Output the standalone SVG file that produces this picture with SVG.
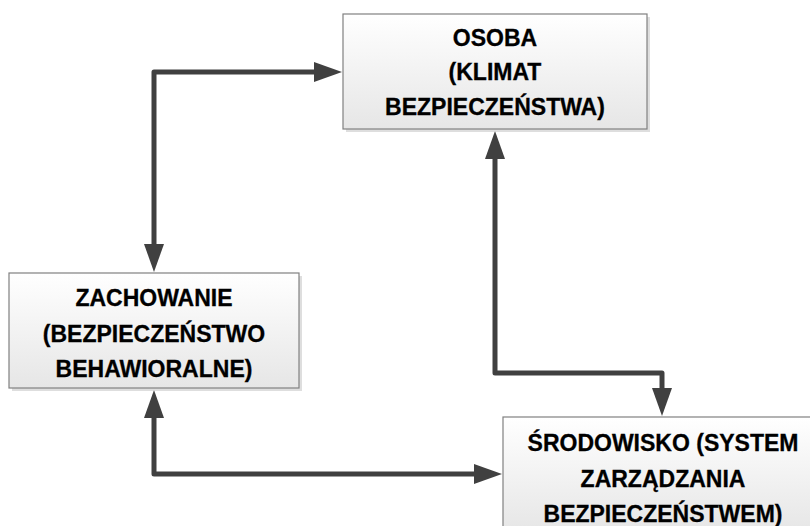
<svg xmlns="http://www.w3.org/2000/svg" width="810" height="526" viewBox="0 0 810 526">
  <defs>
    <linearGradient id="boxFill" x1="0" y1="0" x2="0" y2="1">
      <stop offset="0" stop-color="#ffffff"/>
      <stop offset="1" stop-color="#e6e6e6"/>
    </linearGradient>
    <!-- arrowhead: base sits on the path end, tip points 28px further -->
    <marker id="arrow" markerUnits="userSpaceOnUse" markerWidth="30" markerHeight="22" viewBox="0 0 30 22" refX="1" refY="11" orient="auto">
      <path d="M0,1 L28,11 L0,21 Z" fill="#404040"/>
    </marker>
    <marker id="arrowStart" markerUnits="userSpaceOnUse" markerWidth="30" markerHeight="22" viewBox="0 0 30 22" refX="1" refY="11" orient="auto-start-reverse">
      <path d="M0,1 L28,11 L0,21 Z" fill="#404040"/>
    </marker>
  </defs>
  <style>
    .shadow { fill: #c8c8c8; opacity: 0.6; }
    .box { fill: url(#boxFill); stroke: #808080; stroke-width: 1.2; }
    .label { font-family: "Liberation Sans", Arial, sans-serif; font-weight: bold; font-size: 23px; fill: #000000; text-anchor: middle; stroke: #000000; stroke-width: 0.3; }
    .link { fill: none; stroke: #404040; stroke-width: 5; stroke-linejoin: round; }
  </style>
  <rect width="810" height="526" fill="#ffffff"/>

  <g id="connectors">
    <!-- OSOBA <-> ZACHOWANIE -->
    <path class="link" d="M154,245 L154,72 L315,72" marker-start="url(#arrowStart)" marker-end="url(#arrow)"/>
    <!-- ZACHOWANIE <-> ŚRODOWISKO -->
    <path class="link" d="M154,417 L154,474 L475,474" marker-start="url(#arrowStart)" marker-end="url(#arrow)"/>
    <!-- OSOBA <-> ŚRODOWISKO -->
    <path class="link" d="M495,158 L495,373 L662,373 L662,389" marker-start="url(#arrowStart)" marker-end="url(#arrow)"/>
  </g>

  <g id="osoba">
    <rect class="shadow" x="346" y="17" width="304" height="115"/>
    <rect class="box" x="343" y="14" width="304" height="115"/>
    <text class="label" x="495" y="46">OSOBA</text>
    <text class="label" x="495" y="80">(KLIMAT</text>
    <text class="label" x="495" y="115">BEZPIECZEŃSTWA)</text>
  </g>

  <g id="zachowanie">
    <rect class="shadow" x="12" y="276" width="290" height="115"/>
    <rect class="box" x="9" y="273" width="290" height="115"/>
    <text class="label" x="154" y="306">ZACHOWANIE</text>
    <text class="label" x="154" y="342">(BEZPIECZEŃSTWO</text>
    <text class="label" x="154" y="377">BEHAWIORALNE)</text>
  </g>

  <g id="srodowisko">
    <rect class="shadow" x="506" y="420" width="320" height="115"/>
    <rect class="box" x="503" y="417" width="320" height="115"/>
    <text class="label" x="663" y="451">ŚRODOWISKO (SYSTEM</text>
    <text class="label" x="663" y="487">ZARZĄDZANIA</text>
    <text class="label" x="663" y="522">BEZPIECZEŃSTWEM)</text>
  </g>
</svg>
